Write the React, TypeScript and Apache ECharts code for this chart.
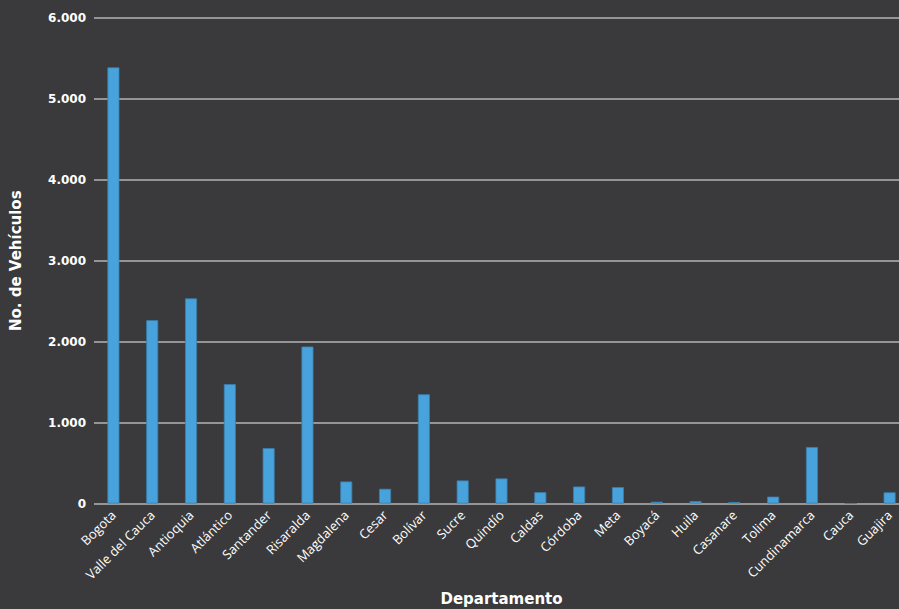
import React, { useEffect, useRef } from "react";
import * as echarts from "echarts";

const departamentos = [
  "Bogota", "Valle del Cauca", "Antioquia", "Atlántico", "Santander", "Risaralda",
  "Magdalena", "Cesar", "Bolívar", "Sucre", "Quindío", "Caldas", "Córdoba", "Meta",
  "Boyacá", "Huila", "Casanare", "Tolima", "Cundinamarca", "Cauca", "Guajira",
];
const vehiculos = [
  5390, 2265, 2535, 1475, 685, 1940, 272, 182, 1350, 285, 310, 140, 210, 202,
  22, 30, 18, 85, 698, 0, 138,
];
const yTicks = [0, 1000, 2000, 3000, 4000, 5000, 6000];

const fmt = (v: number) => v.toLocaleString("de-DE");

export default function App() {
  const ref = useRef<HTMLDivElement>(null);
  useEffect(() => {
    document.body.style.margin = "0";
    const chart = echarts.init(ref.current!, null, { renderer: "svg" });
    chart.setOption({
      animation: false,
      backgroundColor: "#3a3a3c",
      grid: {
        left: 94, top: 18, width: 815, height: 485.5,
        containLabel: false, outerBoundsMode: "none",
      },
      xAxis: {
        type: "category",
        data: departamentos,
        name: "Departamento",
        nameLocation: "middle",
        nameGap: 88,
        nameTextStyle: { color: "#ffffff", fontSize: 15, fontWeight: "bold", fontFamily: "DejaVu Sans" },
        axisLine: { show: false },
        axisTick: { show: false },
        axisLabel: {
          interval: 0,
          rotate: 45,
          color: "#ffffff",
          fontSize: 13,
          fontFamily: "Open Sans",
          margin: 9,
        },
      },
      yAxis: {
        type: "value",
        min: yTicks[0],
        max: yTicks[yTicks.length - 1],
        interval: 1000,
        name: "No. de Vehículos",
        nameLocation: "middle",
        nameGap: 71,
        nameRotate: 90,
        nameTextStyle: { color: "#ffffff", fontSize: 15, fontWeight: "bold", fontFamily: "DejaVu Sans" },
        axisLine: { show: false },
        axisTick: { show: false },
        axisLabel: {
          color: "#ffffff",
          fontSize: 12,
          fontWeight: "bold",
          fontFamily: "DejaVu Sans",
          margin: 8,
          formatter: (v: number) => fmt(v),
        },
        splitLine: { lineStyle: { color: "#b4b4b4", width: 1.5 } },
      },
      series: [
        {
          type: "bar",
          data: vehiculos,
          barWidth: 12,
          itemStyle: { color: "#48a3dc", borderColor: "#3a80ad", borderWidth: 0.8 },
        },
      ],
    });
    return () => chart.dispose();
  }, []);
  return (
    <div
      ref={ref}
      style={{ position: "absolute", left: 0, top: 0, width: 899, height: 609 }}
    />
  );
}
